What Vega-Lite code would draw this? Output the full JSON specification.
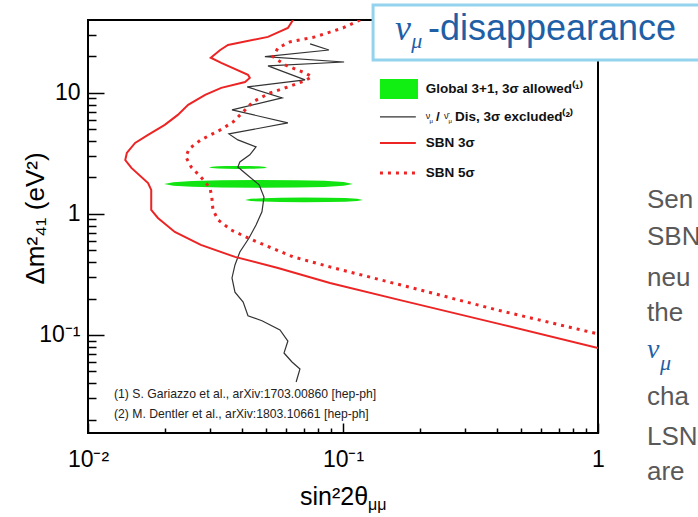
{
  "$schema": "https://vega.github.io/schema/vega-lite/v6.json",
  "width": 510,
  "height": 413,
  "autosize": {"type": "none"},
  "padding": {"left": 88, "top": 20, "right": 100, "bottom": 84},
  "background": "white",
  "config": {
    "view": {"stroke": "#000", "strokeWidth": 2},
    "font": "Liberation Sans",
    "axis": {"grid": false, "domain": false, "tickColor": "#000", "tickWidth": 1.5, "labelColor": "#000", "labelFont": "Liberation Sans", "labelFlush": false, "labelOverlap": false}
  },
  "resolve": {"axis": {"x": "independent", "y": "independent"}},
  "encoding": {
    "x": {"field": "x", "type": "quantitative", "scale": {"type": "log", "domain": [0.01, 1], "nice": false}, "axis": null},
    "y": {"field": "y", "type": "quantitative", "scale": {"type": "log", "domain": [0.0155, 40], "nice": false}, "axis": null}
  },
  "layer": [
    {
      "description": "Global 3+1 fit, 3 sigma allowed islands",
      "data": {"values": [
        {"blob": "a", "x": 0.0298, "hi": 2.421, "lo": 2.421},
        {"blob": "a", "x": 0.0306, "hi": 2.451, "lo": 2.391},
        {"blob": "a", "x": 0.0323, "hi": 2.472, "lo": 2.371},
        {"blob": "a", "x": 0.0349, "hi": 2.483, "lo": 2.360},
        {"blob": "a", "x": 0.0387, "hi": 2.489, "lo": 2.355},
        {"blob": "a", "x": 0.0430, "hi": 2.486, "lo": 2.358},
        {"blob": "a", "x": 0.0465, "hi": 2.475, "lo": 2.368},
        {"blob": "a", "x": 0.0490, "hi": 2.455, "lo": 2.388},
        {"blob": "a", "x": 0.0504, "hi": 2.421, "lo": 2.421},
        {"blob": "b", "x": 0.0199, "hi": 1.770, "lo": 1.770},
        {"blob": "b", "x": 0.0216, "hi": 1.829, "lo": 1.712},
        {"blob": "b", "x": 0.0256, "hi": 1.871, "lo": 1.675},
        {"blob": "b", "x": 0.0333, "hi": 1.894, "lo": 1.654},
        {"blob": "b", "x": 0.0467, "hi": 1.905, "lo": 1.644},
        {"blob": "b", "x": 0.0655, "hi": 1.898, "lo": 1.650},
        {"blob": "b", "x": 0.0845, "hi": 1.878, "lo": 1.669},
        {"blob": "b", "x": 0.1005, "hi": 1.837, "lo": 1.706},
        {"blob": "b", "x": 0.1094, "hi": 1.770, "lo": 1.770},
        {"blob": "c", "x": 0.0413, "hi": 1.306, "lo": 1.306},
        {"blob": "c", "x": 0.0435, "hi": 1.332, "lo": 1.280},
        {"blob": "c", "x": 0.0484, "hi": 1.350, "lo": 1.264},
        {"blob": "c", "x": 0.0568, "hi": 1.360, "lo": 1.254},
        {"blob": "c", "x": 0.0703, "hi": 1.365, "lo": 1.250},
        {"blob": "c", "x": 0.0870, "hi": 1.361, "lo": 1.253},
        {"blob": "c", "x": 0.1021, "hi": 1.353, "lo": 1.261},
        {"blob": "c", "x": 0.1136, "hi": 1.335, "lo": 1.278},
        {"blob": "c", "x": 0.1198, "hi": 1.306, "lo": 1.306}
      ]},
      "mark": {"type": "area", "color": "#11e411", "opacity": 1, "clip": true},
      "encoding": {
        "x": {"field": "x", "type": "quantitative", "scale": {"type": "log", "domain": [0.01, 1], "nice": false},
          "axis": {"orient": "bottom", "values": [0.01, 0.1, 1], "tickSize": -10, "labelPadding": 25, "labelFontSize": 23,
            "labelExpr": "datum.value < 0.05 ? '10⁻²' : datum.value < 0.5 ? '10⁻¹' : '1'", "title": null}},
        "y": {"field": "hi", "type": "quantitative", "scale": {"type": "log", "domain": [0.0155, 40], "nice": false},
          "axis": {"orient": "left", "values": [0.1, 1, 10], "tickSize": -16, "labelPadding": 24, "labelFontSize": 23,
            "labelExpr": "datum.value < 0.5 ? '10⁻¹' : datum.value < 5 ? '1' : '10'",
            "title": "Δm²₄₁ (eV²)", "titleFont": "Liberation Sans", "titleFontSize": 26, "titleFontWeight": "normal", "titleColor": "#000",
            "titleX": -53, "titleY": 198, "titleAngle": 270, "titleAlign": "center", "titleBaseline": "middle"}},
        "y2": {"field": "lo"},
        "detail": {"field": "blob"}
      }
    },
    {
      "description": "nu_mu / nu_mu-bar disappearance, 3 sigma excluded",
      "data": {"values": [
        {"i": 1, "x": 0.0743, "y": 25.4}, {"i": 2, "x": 0.0881, "y": 22.6}, {"i": 3, "x": 0.0494, "y": 19.9},
        {"i": 4, "x": 0.101, "y": 18.0}, {"i": 5, "x": 0.0508, "y": 16.7}, {"i": 6, "x": 0.0710, "y": 12.8},
        {"i": 7, "x": 0.0421, "y": 11.2}, {"i": 8, "x": 0.0577, "y": 9.09}, {"i": 9, "x": 0.0367, "y": 7.24},
        {"i": 10, "x": 0.0608, "y": 5.65}, {"i": 11, "x": 0.0357, "y": 4.58}, {"i": 12, "x": 0.0387, "y": 4.09},
        {"i": 13, "x": 0.0456, "y": 3.58}, {"i": 14, "x": 0.0431, "y": 3.08}, {"i": 15, "x": 0.0394, "y": 2.69},
        {"i": 16, "x": 0.0387, "y": 2.44}, {"i": 17, "x": 0.0417, "y": 2.14}, {"i": 18, "x": 0.0469, "y": 1.74},
        {"i": 19, "x": 0.0490, "y": 1.38}, {"i": 20, "x": 0.0481, "y": 1.04}, {"i": 21, "x": 0.0456, "y": 0.811},
        {"i": 22, "x": 0.0428, "y": 0.633}, {"i": 23, "x": 0.0394, "y": 0.485}, {"i": 24, "x": 0.0377, "y": 0.379},
        {"i": 25, "x": 0.0367, "y": 0.296}, {"i": 26, "x": 0.0377, "y": 0.226}, {"i": 27, "x": 0.0406, "y": 0.187},
        {"i": 28, "x": 0.0424, "y": 0.144}, {"i": 29, "x": 0.0481, "y": 0.131}, {"i": 30, "x": 0.0566, "y": 0.110},
        {"i": 31, "x": 0.0608, "y": 0.0891}, {"i": 32, "x": 0.0587, "y": 0.0710}, {"i": 33, "x": 0.0631, "y": 0.0598},
        {"i": 34, "x": 0.0678, "y": 0.0524}, {"i": 35, "x": 0.0655, "y": 0.0409}
      ]},
      "mark": {"type": "line", "color": "#333", "strokeWidth": 1.2, "clip": true},
      "encoding": {"order": {"field": "i", "type": "quantitative"}}
    },
    {
      "description": "SBN 3 sigma sensitivity",
      "data": {"values": [
        {"i": 1, "x": 0.0637, "y": 40.1}, {"i": 2, "x": 0.0608, "y": 34.4}, {"i": 3, "x": 0.0508, "y": 29.0},
        {"i": 4, "x": 0.0354, "y": 24.9}, {"i": 5, "x": 0.0330, "y": 22.6}, {"i": 6, "x": 0.0303, "y": 19.5},
        {"i": 7, "x": 0.0333, "y": 17.7}, {"i": 8, "x": 0.0424, "y": 14.1}, {"i": 9, "x": 0.0431, "y": 13.3},
        {"i": 10, "x": 0.0413, "y": 12.3}, {"i": 11, "x": 0.0333, "y": 11.0}, {"i": 12, "x": 0.0288, "y": 9.63},
        {"i": 13, "x": 0.0247, "y": 7.96}, {"i": 14, "x": 0.0225, "y": 6.58}, {"i": 15, "x": 0.0200, "y": 5.44},
        {"i": 16, "x": 0.0172, "y": 4.50}, {"i": 17, "x": 0.0153, "y": 3.86}, {"i": 18, "x": 0.0142, "y": 3.19},
        {"i": 19, "x": 0.0140, "y": 2.79}, {"i": 20, "x": 0.0148, "y": 2.40}, {"i": 21, "x": 0.0172, "y": 1.80},
        {"i": 22, "x": 0.0177, "y": 1.58}, {"i": 23, "x": 0.0177, "y": 1.08}, {"i": 24, "x": 0.0188, "y": 0.927},
        {"i": 25, "x": 0.0219, "y": 0.710}, {"i": 26, "x": 0.0277, "y": 0.555}, {"i": 27, "x": 0.0377, "y": 0.442},
        {"i": 28, "x": 0.0556, "y": 0.358}, {"i": 29, "x": 0.0889, "y": 0.269}, {"i": 30, "x": 0.1676, "y": 0.194},
        {"i": 31, "x": 0.413, "y": 0.123}, {"i": 32, "x": 1.0, "y": 0.0782}
      ]},
      "mark": {"type": "line", "color": "#ec2424", "strokeWidth": 2, "clip": true},
      "encoding": {
        "x": {"field": "x", "type": "quantitative", "scale": {"type": "log", "domain": [0.01, 1], "nice": false},
          "axis": {"orient": "bottom", "values": [0.02, 0.03, 0.04, 0.05, 0.06, 0.07, 0.08, 0.09, 0.2, 0.3, 0.4, 0.5, 0.6, 0.7, 0.8, 0.9], "tickSize": -5, "labels": false, "title": null}},
        "y": {"field": "y", "type": "quantitative", "scale": {"type": "log", "domain": [0.0155, 40], "nice": false},
          "axis": {"orient": "left", "values": [0.02, 0.03, 0.04, 0.05, 0.06, 0.07, 0.08, 0.09, 0.2, 0.3, 0.4, 0.5, 0.6, 0.7, 0.8, 0.9, 2, 3, 4, 5, 6, 7, 8, 9, 20, 30], "tickSize": -8, "labels": false, "title": null}},
        "order": {"field": "i", "type": "quantitative"}
      }
    },
    {
      "description": "SBN 5 sigma sensitivity",
      "data": {"values": [
        {"i": 1, "x": 0.1167, "y": 40.1}, {"i": 2, "x": 0.1, "y": 34.4}, {"i": 3, "x": 0.0776, "y": 29.0},
        {"i": 4, "x": 0.0619, "y": 26.4}, {"i": 5, "x": 0.0556, "y": 23.5}, {"i": 6, "x": 0.0531, "y": 19.9},
        {"i": 7, "x": 0.0593, "y": 17.0}, {"i": 8, "x": 0.0710, "y": 14.6}, {"i": 9, "x": 0.0755, "y": 13.6},
        {"i": 10, "x": 0.0710, "y": 12.6}, {"i": 11, "x": 0.0608, "y": 11.2}, {"i": 12, "x": 0.0518, "y": 10.0},
        {"i": 13, "x": 0.0443, "y": 8.43}, {"i": 14, "x": 0.0406, "y": 6.96}, {"i": 15, "x": 0.0371, "y": 5.76},
        {"i": 16, "x": 0.0330, "y": 4.94}, {"i": 17, "x": 0.0277, "y": 4.09}, {"i": 18, "x": 0.0249, "y": 3.45},
        {"i": 19, "x": 0.0242, "y": 2.96}, {"i": 20, "x": 0.0254, "y": 2.44}, {"i": 21, "x": 0.0277, "y": 2.02},
        {"i": 22, "x": 0.0301, "y": 1.64}, {"i": 23, "x": 0.0306, "y": 1.36}, {"i": 24, "x": 0.0309, "y": 1.08},
        {"i": 25, "x": 0.0324, "y": 0.891}, {"i": 26, "x": 0.0364, "y": 0.738}, {"i": 27, "x": 0.0424, "y": 0.633},
        {"i": 28, "x": 0.0481, "y": 0.565}, {"i": 29, "x": 0.0637, "y": 0.442}, {"i": 30, "x": 0.0889, "y": 0.365},
        {"i": 31, "x": 0.188, "y": 0.244}, {"i": 32, "x": 0.402, "y": 0.161}, {"i": 33, "x": 1.0, "y": 0.102}
      ]},
      "mark": {"type": "line", "color": "#ec2424", "strokeWidth": 3, "strokeDash": [3, 5], "strokeCap": "butt", "clip": true},
      "encoding": {"order": {"field": "i", "type": "quantitative"}}
    },
    {
      "description": "legend swatch for the allowed region",
      "data": {"values": [{"x": 0.1396, "x2": 0.1968, "y": 13.05, "y2": 8.92}]},
      "mark": {"type": "rect", "color": "#11ee11"},
      "encoding": {"x2": {"field": "x2"}, "y2": {"field": "y2"}}
    },
    {
      "data": {"values": [{"x": 0.1396, "x2": 0.193, "y": 6.34}]},
      "mark": {"type": "rule", "color": "#333", "strokeWidth": 1.2},
      "encoding": {"x2": {"field": "x2"}}
    },
    {
      "data": {"values": [{"x": 0.1396, "x2": 0.193, "y": 3.86}]},
      "mark": {"type": "rule", "color": "#ec2424", "strokeWidth": 2},
      "encoding": {"x2": {"field": "x2"}}
    },
    {
      "data": {"values": [{"x": 0.1396, "x2": 0.193, "y": 2.18}]},
      "mark": {"type": "rule", "color": "#ec2424", "strokeWidth": 3, "strokeDash": [3, 5], "strokeCap": "butt"},
      "encoding": {"x2": {"field": "x2"}}
    },
    {
      "description": "legend labels",
      "data": {"values": [
        {"x": 0.2113, "y": 10.8, "t": "Global 3+1, 3σ allowed⁽¹⁾"},
        {"x": 0.2317, "y": 6.34, "t": "/"},
        {"x": 0.2748, "y": 6.34, "t": "Dis, 3σ excluded⁽²⁾"},
        {"x": 0.2113, "y": 3.86, "t": "SBN 3σ"},
        {"x": 0.2113, "y": 2.18, "t": "SBN 5σ"}
      ]},
      "mark": {"type": "text", "align": "left", "baseline": "middle", "font": "Liberation Sans", "fontWeight": "bold", "fontSize": 13.5, "color": "#111"},
      "encoding": {"text": {"field": "t"}}
    },
    {
      "data": {"values": [{"x": 0.2113, "y": 6.5, "t": "ν"}, {"x": 0.2489, "y": 6.5, "t": "ν̄"}]},
      "mark": {"type": "text", "align": "left", "baseline": "middle", "font": "Liberation Sans", "fontSize": 9, "color": "#111"},
      "encoding": {"text": {"field": "t"}}
    },
    {
      "data": {"values": [{"x": 0.2183, "y": 5.9, "t": "μ"}, {"x": 0.2594, "y": 5.9, "t": "μ"}]},
      "mark": {"type": "text", "align": "left", "baseline": "middle", "font": "Liberation Sans", "fontSize": 6, "color": "#111"},
      "encoding": {"text": {"field": "t"}}
    },
    {
      "description": "references",
      "data": {"values": [
        {"x": 0.01265, "y": 0.0325, "t": "(1) S. Gariazzo et al., arXiv:1703.00860 [hep-ph]"},
        {"x": 0.01265, "y": 0.0222, "t": "(2) M. Dentler et al., arXiv:1803.10661 [hep-ph]"}
      ]},
      "mark": {"type": "text", "align": "left", "baseline": "middle", "font": "Liberation Sans", "fontSize": 12.2, "color": "#222"},
      "encoding": {"text": {"field": "t"}}
    },
    {
      "description": "x axis title",
      "data": {"values": [{"x": 0.0678, "y": 0.003936, "t": "sin²2θ"}]},
      "mark": {"type": "text", "align": "left", "baseline": "alphabetic", "font": "Liberation Sans", "fontSize": 25, "color": "#000"},
      "encoding": {"text": {"field": "t"}}
    },
    {
      "data": {"values": [{"x": 0.1253, "y": 0.003581, "t": "μμ"}]},
      "mark": {"type": "text", "align": "left", "baseline": "alphabetic", "font": "Liberation Sans", "fontSize": 16, "color": "#000"},
      "encoding": {"text": {"field": "t"}}
    },
    {
      "description": "channel label box",
      "data": {"values": [{"x": 0.1312, "x2": 3.0, "y": 53.3, "y2": 18.7}]},
      "mark": {"type": "rect", "fill": "white", "stroke": "#93d3ee", "strokeWidth": 3},
      "encoding": {"x2": {"field": "x2"}, "y2": {"field": "y2"}}
    },
    {
      "data": {"values": [{"x": 0.160, "y": 27.4, "t": "ν"}]},
      "mark": {"type": "text", "align": "left", "baseline": "alphabetic", "font": "Liberation Serif", "fontStyle": "italic", "fontSize": 36, "color": "#1f5fa6"},
      "encoding": {"text": {"field": "t"}}
    },
    {
      "data": {"values": [{"x": 0.185, "y": 23.5, "t": "μ"}, {"x": 1.75, "y": 0.0514, "t": "μ"}]},
      "mark": {"type": "text", "align": "left", "baseline": "alphabetic", "font": "Liberation Serif", "fontStyle": "italic", "fontSize": 22, "color": "#1f5fa6"},
      "encoding": {"text": {"field": "t"}}
    },
    {
      "data": {"values": [{"x": 0.2154, "y": 27.4, "t": "-disappearance"}]},
      "mark": {"type": "text", "align": "left", "baseline": "alphabetic", "font": "Liberation Sans", "fontSize": 36, "color": "#1f5fa6"},
      "encoding": {"text": {"field": "t"}}
    },
    {
      "description": "side notes",
      "data": {"values": [
        {"x": 1.556, "y": 1.121, "t": "Sen"},
        {"x": 1.556, "y": 0.555, "t": "SBN"},
        {"x": 1.556, "y": 0.254, "t": "neu"},
        {"x": 1.556, "y": 0.1306, "t": "the"},
        {"x": 1.556, "y": 0.02636, "t": "cha"},
        {"x": 1.556, "y": 0.01233, "t": "LSN"},
        {"x": 1.556, "y": 0.00634, "t": "are"}
      ]},
      "mark": {"type": "text", "align": "left", "baseline": "alphabetic", "font": "Liberation Sans", "fontSize": 26, "color": "#595959"},
      "encoding": {"text": {"field": "t"}}
    },
    {
      "data": {"values": [{"x": 1.556, "y": 0.0646, "t": "ν"}]},
      "mark": {"type": "text", "align": "left", "baseline": "alphabetic", "font": "Liberation Serif", "fontStyle": "italic", "fontSize": 28, "color": "#1f5fa6"},
      "encoding": {"text": {"field": "t"}}
    }
  ]
}
